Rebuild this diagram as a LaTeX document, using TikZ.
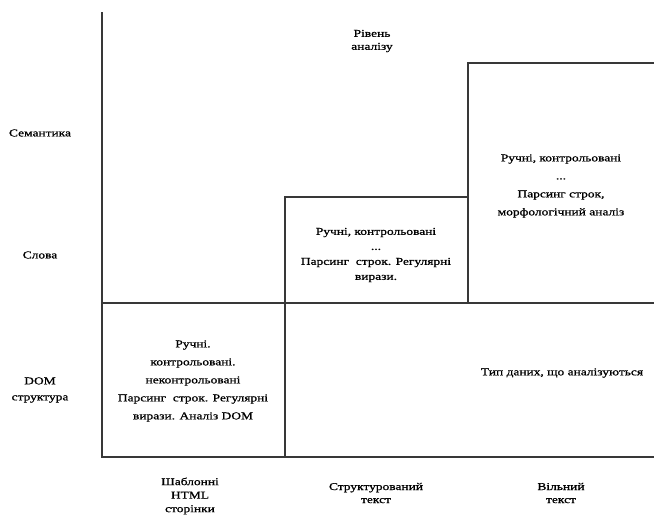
\documentclass[tikz,border=0pt]{standalone}
\usepackage{fontspec}
\setmainfont{Liberation Serif}[FakeStretch=1.28,FakeBold=1]
\begin{document}
\begin{tikzpicture}[x=1pt,y=-1pt,
  axis/.style={draw=black!78,line width=1.5pt},
  lbl/.style={inner sep=0pt,align=center,font=\fontsize{10.5}{13}\selectfont},
  boxtxt/.style={lbl,font=\fontsize{10.5}{18}\selectfont},
  midtxt/.style={lbl,font=\fontsize{10.5}{15}\selectfont}]
  \useasboundingbox (0,0) rectangle (654,525);
  % grid corners
  \coordinate (axTop) at (102,12);
  \coordinate (origin) at (102,457);
  \coordinate (axRight) at (654,457);
  \coordinate (midL) at (102,303);
  \coordinate (midR) at (654,303);
  \coordinate (c1b) at (285,457);
  \coordinate (c1t) at (285,197);
  \coordinate (c2b) at (468,303);
  \coordinate (c2t) at (468,63);
  \coordinate (topR) at (654,63);
  % axes and steps
  \draw[axis] (axTop) -- (origin) -- (axRight);
  \draw[axis] (midL) -- (midR);
  \draw[axis] (c1b) -- (c1t) -- (c1t -| c2t);
  \draw[axis] (c2b) -- (c2t) -- (topR);
  % level labels
  \node[lbl] (level) at (372,41) {Рівень\\аналізу};
  \node[lbl] (sem) at (40,133) {Семантика};
  \node[lbl] (words) at (40,255) {Слова};
  \node[lbl,font=\fontsize{10.5}{16}\selectfont] (dom) at (40,390) {DOM\\структура};
  % cells
  \node[boxtxt] (cellFree) at (561,186) {Ручні, контрольовані\\...\\Парсинг строк,\\морфологічний аналіз};
  \node[midtxt] (cellStruct) at (376,255) {Ручні, контрольовані\\...\\Парсинг\ \ строк. Регулярні\\вирази.};
  \node[boxtxt] (cellHtml) at (193,381) {Ручні.\\контрольовані.\\неконтрольовані\\Парсинг\ \ строк. Регулярні\\вирази. Аналіз DOM};
  \node[lbl] (datatype) at (562,373) {Тип даних, що аналізуються};
  % data type labels
  \node[lbl,font=\fontsize{10.5}{13.5}\selectfont] (tHtml) at (190,496) {Шаблонні\\HTML\\сторінки};
  \node[lbl] (tStruct) at (376,493) {Структурований\\текст};
  \node[lbl] (tFree) at (561,493) {Вільний\\текст};
\end{tikzpicture}
\end{document}
